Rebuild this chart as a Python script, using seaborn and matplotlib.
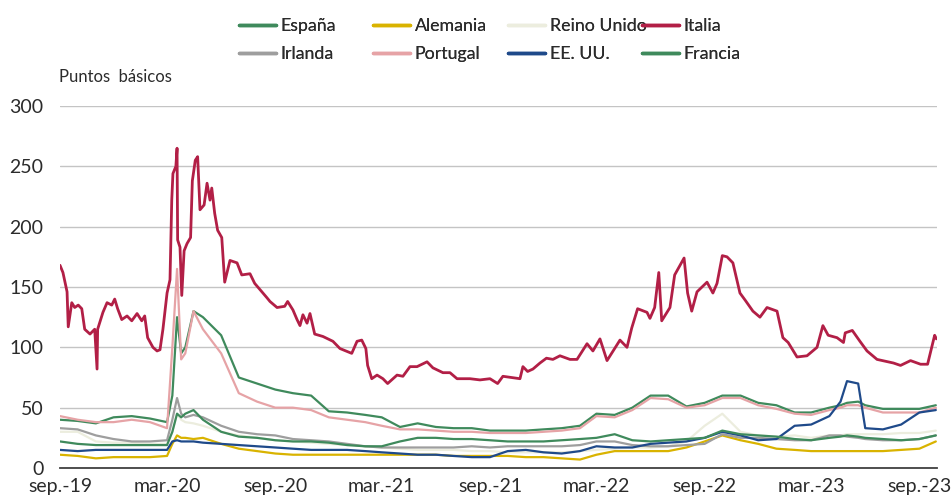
import matplotlib
matplotlib.use("Agg")
import matplotlib.pyplot as plt
from matplotlib.lines import Line2D
import seaborn as sns
import pandas as pd

# ---------------- data ----------------
fechas = ["2019-09-01", "2019-10-01", "2019-11-01", "2019-12-01", "2020-01-01", "2020-02-01",
          "2020-03-01", "2020-03-10", "2020-03-18", "2020-03-25", "2020-04-01", "2020-04-15",
          "2020-05-01", "2020-06-01", "2020-07-01", "2020-08-01", "2020-09-01", "2020-10-01",
          "2020-11-01", "2020-12-01", "2021-01-01", "2021-02-01", "2021-03-01", "2021-04-01",
          "2021-05-01", "2021-06-01", "2021-07-01", "2021-08-01", "2021-09-01", "2021-10-01",
          "2021-11-01", "2021-12-01", "2022-01-01", "2022-02-01", "2022-03-01", "2022-04-01",
          "2022-05-01", "2022-06-01", "2022-07-01", "2022-08-01", "2022-09-01", "2022-10-01",
          "2022-11-01", "2022-12-01", "2023-01-01", "2023-02-01", "2023-03-01", "2023-04-01",
          "2023-04-20", "2023-05-01", "2023-05-20", "2023-06-01", "2023-07-01", "2023-08-01",
          "2023-09-01", "2023-09-29"]

espana = [40, 39, 37, 42, 43, 41, 38, 60, 125, 95, 100, 130, 125, 110, 75, 70, 65, 62,
          60, 47, 46, 44, 42, 34, 37, 34, 33, 33, 31, 31, 31, 32, 33, 35, 45, 44,
          50, 60, 60, 51, 54, 60, 60, 54, 52, 46, 46, 50, 52, 54, 55, 52, 49, 49,
          49, 52]
portugal = [43, 40, 38, 38, 40, 38, 33, 100, 165, 90, 95, 130, 115, 95, 62, 55, 50, 50,
            48, 42, 40, 38, 35, 32, 32, 31, 30, 30, 29, 29, 29, 30, 31, 33, 43, 42,
            48, 58, 57, 50, 52, 58, 58, 52, 49, 45, 44, 48, 50, 52, 52, 50, 46, 46,
            46, 50]
francia = [22, 20, 19, 19, 19, 19, 19, 30, 45, 42, 45, 48, 40, 30, 26, 25, 23, 22,
           22, 21, 19, 18, 18, 22, 25, 25, 24, 24, 23, 22, 22, 22, 23, 24, 25, 28,
           23, 22, 23, 24, 25, 31, 28, 27, 26, 24, 23, 25, 26, 27, 26, 25, 24, 23,
           24, 27]
irlanda = [33, 32, 27, 24, 22, 22, 23, 40, 58, 45, 42, 44, 42, 35, 30, 28, 27, 24,
           23, 22, 20, 18, 17, 17, 17, 17, 17, 18, 17, 18, 18, 18, 18, 19, 22, 22,
           19, 18, 18, 19, 20, 28, 25, 25, 24, 23, 23, 27, 27, 26, 25, 24, 23, 23,
           24, 27]
reino_unido = [30, 30, 22, 21, 21, 20, 20, 30, 45, 40, 38, 37, 35, 30, 27, 25, 23, 22,
               21, 20, 19, 18, 17, 16, 15, 15, 15, 14, 14, 13, 13, 13, 13, 14, 15, 16,
               17, 17, 18, 22, 35, 45, 30, 27, 26, 27, 25, 27, 27, 28, 28, 28, 28, 29,
               29, 31]
alemania = [11, 10, 8, 9, 9, 9, 10, 20, 27, 25, 25, 24, 25, 20, 16, 14, 12, 11,
            11, 11, 11, 11, 11, 11, 11, 11, 10, 10, 10, 10, 9, 9, 8, 7, 11, 14,
            14, 14, 14, 17, 22, 27, 23, 20, 16, 15, 14, 14, 14, 14, 14, 14, 14, 15,
            16, 22]
eeuu = [15, 14, 15, 15, 15, 15, 15, 22, 23, 22, 22, 22, 21, 20, 19, 18, 17, 16,
        15, 15, 15, 14, 13, 12, 11, 11, 10, 9, 9, 14, 15, 13, 12, 14, 18, 17,
        17, 20, 21, 22, 25, 30, 27, 23, 24, 35, 36, 43, 55, 72, 70, 33, 32, 36,
        46, 48]

fechas_italia = ["2019-09-01", "2019-09-06", "2019-09-13", "2019-09-15", "2019-09-21", "2019-09-26",
                 "2019-10-02", "2019-10-08", "2019-10-13", "2019-10-22", "2019-10-30", "2019-11-03",
                 "2019-11-04", "2019-11-13", "2019-11-20", "2019-11-28", "2019-12-03", "2019-12-08",
                 "2019-12-15", "2019-12-24", "2020-01-01", "2020-01-10", "2020-01-18", "2020-01-23",
                 "2020-01-28", "2020-02-06", "2020-02-13", "2020-02-18", "2020-02-23", "2020-03-01",
                 "2020-03-06", "2020-03-09", "2020-03-11", "2020-03-16", "2020-03-18", "2020-03-19",
                 "2020-03-23", "2020-03-26", "2020-03-30", "2020-04-04", "2020-04-10", "2020-04-13",
                 "2020-04-18", "2020-04-22", "2020-04-26", "2020-05-03", "2020-05-08", "2020-05-13",
                 "2020-05-16", "2020-05-21", "2020-05-26", "2020-06-02", "2020-06-07", "2020-06-16",
                 "2020-06-28", "2020-07-06", "2020-07-20", "2020-07-28", "2020-08-18", "2020-08-23",
                 "2020-09-04", "2020-09-17", "2020-09-22", "2020-10-01", "2020-10-08", "2020-10-13",
                 "2020-10-18", "2020-10-25", "2020-10-30", "2020-11-07", "2020-11-21", "2020-12-08",
                 "2020-12-20", "2021-01-09", "2021-01-18", "2021-01-26", "2021-02-02", "2021-02-05",
                 "2021-02-12", "2021-02-21", "2021-03-03", "2021-03-11", "2021-03-27", "2021-04-06",
                 "2021-04-18", "2021-04-30", "2021-05-17", "2021-05-27", "2021-06-13", "2021-06-25",
                 "2021-07-07", "2021-07-29", "2021-08-15", "2021-09-01", "2021-09-14", "2021-09-23",
                 "2021-10-22", "2021-10-27", "2021-11-04", "2021-11-13", "2021-11-25", "2021-12-06",
                 "2021-12-17", "2021-12-29", "2022-01-15", "2022-01-27", "2022-02-13", "2022-02-23",
                 "2022-03-07", "2022-03-19", "2022-04-10", "2022-04-22", "2022-04-30", "2022-05-10",
                 "2022-05-26", "2022-05-31", "2022-06-08", "2022-06-15", "2022-06-20", "2022-07-04",
                 "2022-07-12", "2022-07-28", "2022-08-03", "2022-08-10", "2022-08-19", "2022-09-05",
                 "2022-09-15", "2022-09-22", "2022-10-01", "2022-10-09", "2022-10-19", "2022-10-31",
                 "2022-11-09", "2022-11-22", "2022-12-04", "2022-12-16", "2023-01-02", "2023-01-12",
                 "2023-01-21", "2023-02-05", "2023-02-22", "2023-03-11", "2023-03-21", "2023-03-30",
                 "2023-04-14", "2023-04-25", "2023-04-28", "2023-05-10", "2023-05-23", "2023-06-04",
                 "2023-06-21", "2023-07-19", "2023-07-31", "2023-08-17", "2023-09-03", "2023-09-15",
                 "2023-09-22", "2023-09-27", "2023-09-30"]
italia = [168, 162, 146, 117, 137, 133,
          135, 132, 115, 111, 115, 82,
          115, 129, 137, 135, 140, 132,
          123, 126, 122, 128, 122, 126,
          108, 100, 97, 98, 115, 145,
          156, 222, 244, 250, 265, 189,
          183, 143, 180, 186, 191, 238,
          255, 258, 214, 218, 236, 222,
          232, 211, 197, 191, 154, 172,
          170, 160, 161, 153, 141, 138,
          133, 134, 138, 131, 123, 118,
          127, 120, 128, 111, 109, 105,
          99, 95, 105, 106, 99, 85,
          74, 77, 74, 70, 77, 76,
          84, 84, 88, 83, 79, 79,
          74, 74, 73, 74, 70, 76,
          74, 84, 80, 82, 87, 91,
          90, 93, 90, 90, 103, 97,
          107, 89, 106, 100, 116, 132,
          129, 124, 133, 162, 122, 133,
          160, 174, 145, 130, 146, 154,
          145, 153, 176, 175, 170, 145,
          139, 130, 125, 133, 130, 108,
          104, 92, 93, 100, 118, 110,
          108, 104, 112, 114, 105, 97,
          90, 87, 85, 89, 86, 86,
          100, 110, 107]

paises = ["España", "Alemania", "Reino Unido", "Italia", "Irlanda", "Portugal", "EE. UU.", "Francia"]
colores = {"España": "#3f8a5c", "Alemania": "#d9b300", "Reino Unido": "#ecedde", "Italia": "#b21f46",
           "Irlanda": "#9e9e9e", "Portugal": "#e6a3a6", "EE. UU.": "#1f4a8a", "Francia": "#3f8a5c"}
yticks = [0, 50, 100, 150, 200, 250, 300]
xtick_fechas = ["2019-09-01", "2020-03-01", "2020-09-01", "2021-03-01", "2021-09-01",
                "2022-03-01", "2022-09-01", "2023-03-01", "2023-09-01"]
xtick_labels = ["sep.-19", "mar.-20", "sep.-20", "mar.-21", "sep.-21",
                "mar.-22", "sep.-22", "mar.-23", "sep.-23"]

series = {"España": espana, "Alemania": alemania, "Reino Unido": reino_unido,
          "Irlanda": irlanda, "Portugal": portugal, "EE. UU.": eeuu, "Francia": francia}
frames = []
for p, v in series.items():
    frames.append(pd.DataFrame({"fecha": pd.to_datetime(fechas), "valor": v, "pais": p}))
frames.append(pd.DataFrame({"fecha": pd.to_datetime(fechas_italia), "valor": italia, "pais": "Italia"}))
df = pd.concat(frames, ignore_index=True)

# ---------------- plot ----------------
sns.set_theme(style="white")
plt.rcParams["font.family"] = ["Lato", "DejaVu Sans"]
plt.rcParams["font.weight"] = "normal"
txt = "#2b2b2b"
fs = 14
fs_leg = 12.8

fig = plt.figure(figsize=(9.52, 4.95), dpi=100)
ax = fig.add_axes([60 / 952, 1 - 468 / 495, 877 / 952, (468 - 106) / 495])

for p in paises:
    sub = df[df["pais"] == p]
    sns.lineplot(data=sub, x="fecha", y="valor", ax=ax, color=colores[p],
                 linewidth=2.0 if p == "Italia" else 1.6, estimator=None, sort=False,
                 legend=False)

ax.set_xlim(pd.Timestamp("2019-09-01"), pd.Timestamp("2023-10-01"))
ax.set_ylim(0, 300)
ax.set_yticks(yticks)
ax.set_xticks(pd.to_datetime(xtick_fechas))
ax.set_xticklabels(xtick_labels)
ax.tick_params(axis="both", length=0, labelsize=fs, colors=txt)
ax.tick_params(axis="y", pad=12)
ax.tick_params(axis="x", pad=7)
ax.set_xlabel("")
ax.set_ylabel("")
for s in ["top", "right", "left"]:
    ax.spines[s].set_visible(False)
ax.spines["bottom"].set_color("#404040")
ax.spines["bottom"].set_linewidth(1.3)
ax.grid(axis="y", color="#c4c4c4", linewidth=1.0)
ax.grid(axis="x", visible=False)
ax.set_axisbelow(True)

fig.text(59 / 952, 1 - 77 / 495, "Puntos  básicos", fontsize=12, color=txt, va="center", ha="left")

# legend: 4 columns x 2 rows
col_x = [239, 373, 508, 642]
cols = [["España", "Irlanda"], ["Alemania", "Portugal"], ["Reino Unido", "EE. UU."], ["Italia", "Francia"]]
for cx, names in zip(col_x, cols):
    handles = [Line2D([], [], color=colores[n], linewidth=2.5) for n in names]
    leg = fig.legend(handles, names, loc="upper left", bbox_to_anchor=(cx / 952, 1 - 18 / 495),
                     frameon=False, fontsize=fs_leg, handlelength=2.1, handletextpad=0.25,
                     borderpad=0, borderaxespad=0, labelspacing=0.7, labelcolor=txt)
    fig.add_artist(leg)

fig.savefig("out.png", dpi=100)
